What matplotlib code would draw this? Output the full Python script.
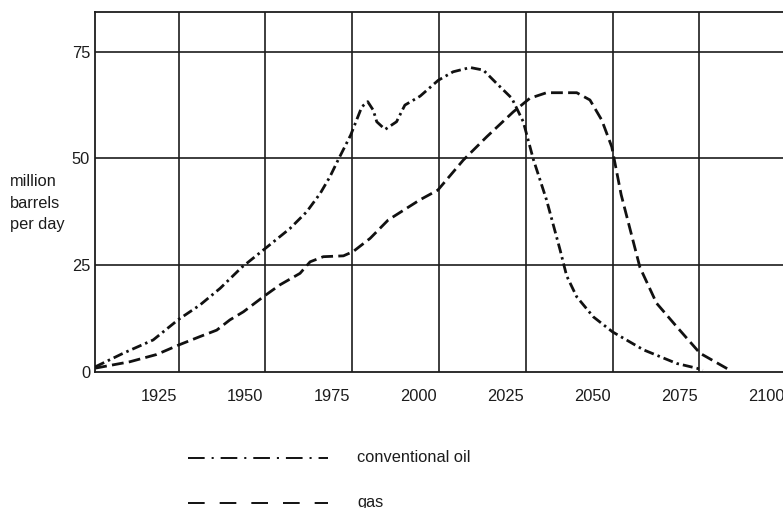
import matplotlib
matplotlib.use("Agg")
import matplotlib.pyplot as plt
from matplotlib.lines import Line2D
from matplotlib.transforms import ScaledTranslation

plt.rcParams['font.family'] = ['Liberation Sans', 'DejaVu Sans']
plt.rcParams['lines.scale_dashes'] = False

# ---- data ----
oil_years = [1901, 1909.1, 1917.7, 1925, 1931.2, 1937, 1943.2, 1950.4, 1957.1, 1961.9,
             1965.8, 1968.6, 1971, 1974.6, 1976.3, 1977.8, 1979.5, 1981.1, 1982.1, 1984.5,
             1987.8, 1990.2, 1994.6, 1999.8, 2004.1, 2009, 2012.8, 2016.6, 2021, 2024.3,
             2027.2, 2031, 2034.9, 2036.8, 2039.7, 2044.5, 2050, 2058.9, 2068.5, 2074.2,
             2076]
oil_values = [1.2, 4.4, 7.5, 12.3, 15.7, 19.6, 24.5, 29.2, 33.6, 37.5,
              41.8, 45.7, 49.7, 55.5, 59.0, 62.1, 63.3, 61.3, 58.6, 56.8,
              58.6, 62.5, 64.6, 68.3, 70.3, 71.3, 70.7, 67.6, 64.1, 58.6,
              49.8, 40.3, 28.6, 22.5, 17.6, 12.9, 9.4, 5.2, 2.0, 0.9,
              0.4]

gas_years = [1901, 1911, 1918.7, 1925, 1931.2, 1936, 1939.8, 1943.7, 1949.4, 1954.2,
             1960, 1962.9, 1966.7, 1972.5, 1975.3, 1980.2, 1985.4, 1994.5, 1999.7, 2007,
             2013.8, 2021.4, 2026.2, 2031, 2039.7, 2043.5, 2046.9, 2049.8, 2052.5, 2057.9,
             2062.7, 2068.5, 2075.2, 2084.3]
gas_values = [0.9, 2.4, 4.1, 6.3, 8.3, 9.8, 12.2, 14.1, 17.6, 20.4,
              23.1, 25.8, 27.0, 27.2, 28.2, 31.3, 35.6, 40.3, 42.6, 49.6,
              55.1, 60.9, 64.1, 65.4, 65.4, 63.7, 59.0, 52.7, 41.5, 24.5,
              16.1, 10.6, 4.4, 0.2]

x_ticks = [1925, 1950, 1975, 2000, 2025, 2050, 2075, 2100]
y_ticks = [0, 25, 50, 75]
series_labels = ["conventional oil", "gas"]
y_label = "million\nbarrels\nper day"

# ---- figure ----
W, H = 783, 508
fig = plt.figure(figsize=(W / 100, H / 100), dpi=100)
x0, x1 = 1900.95, 2101.0
px_per_year = 86.8 / 25
right_px = 95 + (x1 - x0) * px_per_year
ax = fig.add_axes([95 / W, 1 - 372 / H, (right_px - 95) / W, (372 - 12) / H])
ax.set_xlim(x0, x1)
ax.set_ylim(0, 84.3)

ink = '#1c1c1c'
for s in ['left', 'top', 'bottom']:
    ax.spines[s].set_color(ink)
    ax.spines[s].set_linewidth(1.3)
ax.spines['right'].set_visible(False)

for xv in x_ticks:
    ax.axvline(xv, color=ink, lw=1.2, zorder=1)
for yv in y_ticks[1:]:
    ax.axhline(yv, color=ink, lw=1.2, zorder=1)

ax.plot(oil_years, oil_values, color='#111111', lw=2.0,
        dashes=(7.2, 2.9, 1.8, 2.9), zorder=3)
ax.plot(gas_years, gas_values, color='#111111', lw=2.0,
        dashes=(8.5, 3.8), zorder=3)

ax.set_xticks(x_ticks)
ax.set_xticklabels([str(v) for v in x_ticks], fontsize=11.8, color=ink)
ax.set_yticks(y_ticks)
ax.set_yticklabels([str(v) for v in y_ticks], fontsize=11.8, color=ink)
ax.tick_params(axis='both', length=0)
ax.tick_params(axis='y', pad=3.5)
ax.tick_params(axis='x', pad=12)
off = ScaledTranslation(-20 / 100, 0, fig.dpi_scale_trans)
for lab in ax.get_xticklabels():
    lab.set_transform(lab.get_transform() + off)

fig.text(10 / W, 1 - 203 / H, y_label, ha='left', va='center',
         fontsize=11.8, color=ink, linespacing=1.58)

# legend drawn manually
fig.add_artist(Line2D([188 / W, 328 / W], [1 - 458 / H] * 2, color='#111111', lw=1.4,
                      dashes=(12, 5, 1.5, 5)))
fig.add_artist(Line2D([188 / W, 328 / W], [1 - 503 / H] * 2, color='#111111', lw=1.4,
                      dashes=(12, 10.8)))
fig.text(357 / W, 1 - 458 / H, series_labels[0], ha='left', va='center',
         fontsize=11.8, color=ink)
fig.text(357 / W, 1 - 502 / H, series_labels[1], ha='left', va='center',
         fontsize=11.8, color=ink)

fig.savefig("out.png", dpi=100)
